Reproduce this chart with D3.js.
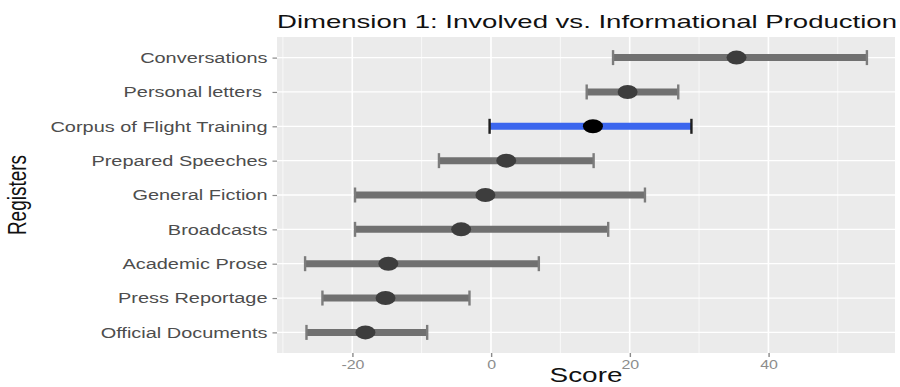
<!DOCTYPE html>
<html>
<head>
<meta charset="utf-8">
<script src="https://cdn.jsdelivr.net/npm/d3@7"></script>
<style>
  html, body { margin: 0; padding: 0; background: #fff; }
  svg { display: block; }
</style>
</head>
<body>
<div id="chart"></div>
<script>
// Registers, top to bottom
const registers = [
  "Conversations",
  "Personal letters ",
  "Corpus of Flight Training",
  "Prepared Speeches",
  "General Fiction",
  "Broadcasts",
  "Academic Prose",
  "Press Reportage",
  "Official Documents"
];
// Dimension 1 scores: mean and range per register
const score = [35.4, 19.7, 14.7, 2.2, -0.8, -4.3, -14.8, -15.2, -18.1];
const lower = [17.6, 13.8, -0.2, -7.5, -19.6, -19.6, -26.8, -24.3, -26.6];
const upper = [54.2, 27.0, 28.9, 14.8, 22.2, 16.9, 6.9, -3.1, -9.2];
const highlight = "Corpus of Flight Training";
const xTicks = [-20, 0, 20, 40];
const xMinorTicks = [-30, -10, 10, 30, 50];

const rows = registers.map((r, i) => ({ register: r, score: score[i], lower: lower[i], upper: upper[i] }));

// The drawing is laid out in a horizontally stretched coordinate system
const W = 900, H = 387, SX = 1.33;
const VW = W / SX;
const u = v => v / SX;   // screen pixels -> drawing x units

const panel = { left: u(277), right: u(895), top: 37, bottom: 353 };
const FONT = "'Liberation Sans', Arial, Helvetica, sans-serif";

const svg = d3.select("#chart").append("svg")
  .attr("width", W).attr("height", H)
  .attr("viewBox", `0 0 ${VW} ${H}`)
  .attr("preserveAspectRatio", "none");

const lo = d3.min(lower), hi = d3.max(upper), pad = (hi - lo) * 0.05;
const x = d3.scaleLinear().domain([lo - pad, hi + pad]).range([panel.left, panel.right]);
const y = d3.scalePoint().domain(registers).range([panel.top, panel.bottom]).padding(0.6);

// Panel background and grid
svg.append("rect")
  .attr("x", panel.left).attr("y", panel.top)
  .attr("width", panel.right - panel.left).attr("height", panel.bottom - panel.top)
  .attr("fill", "#ebebeb");

const grid = svg.append("g");
grid.selectAll("line.minor").data(xMinorTicks.filter(t => x(t) >= panel.left && x(t) <= panel.right))
  .join("line").attr("class", "minor")
  .attr("x1", d => x(d)).attr("x2", d => x(d))
  .attr("y1", panel.top).attr("y2", panel.bottom)
  .attr("stroke", "#fff").attr("stroke-width", 0.6);
grid.selectAll("line.vmajor").data(xTicks)
  .join("line").attr("class", "vmajor")
  .attr("x1", d => x(d)).attr("x2", d => x(d))
  .attr("y1", panel.top).attr("y2", panel.bottom)
  .attr("stroke", "#fff").attr("stroke-width", 1.2);
grid.selectAll("line.hmajor").data(registers)
  .join("line").attr("class", "hmajor")
  .attr("x1", panel.left).attr("x2", panel.right)
  .attr("y1", d => y(d)).attr("y2", d => y(d))
  .attr("stroke", "#fff").attr("stroke-width", 1.3);

// Error bars with caps
const marks = svg.append("g");
marks.selectAll("line.bar").data(rows).join("line").attr("class", "bar")
  .attr("x1", d => x(d.lower)).attr("x2", d => x(d.upper))
  .attr("y1", d => y(d.register)).attr("y2", d => y(d.register))
  .attr("stroke", d => d.register === highlight ? "#3b66ee" : "#707070")
  .attr("stroke-width", 7);

const caps = rows.flatMap(d => [
  { register: d.register, v: d.lower },
  { register: d.register, v: d.upper }
]);
marks.selectAll("line.cap").data(caps).join("line").attr("class", "cap")
  .attr("x1", d => x(d.v)).attr("x2", d => x(d.v))
  .attr("y1", d => y(d.register) - 7.5).attr("y2", d => y(d.register) + 7.5)
  .attr("stroke", d => d.register === highlight ? "#1f1f1f" : "#7c7c7c")
  .attr("stroke-width", u(2.4));

marks.selectAll("ellipse").data(rows).join("ellipse")
  .attr("cx", d => x(d.score)).attr("cy", d => y(d.register))
  .attr("rx", u(10)).attr("ry", 7)
  .attr("fill", d => d.register === highlight ? "#000" : "#3d3d3d");

// Axes
const xAxis = svg.append("g")
  .attr("transform", `translate(0,${panel.bottom})`)
  .call(d3.axisBottom(x).tickValues(xTicks).tickFormat(d => String(d)).tickSize(4).tickPadding(3));
xAxis.select(".domain").remove();
xAxis.selectAll(".tick line").attr("stroke", "#8a8a8a").attr("stroke-width", u(1.4));
xAxis.selectAll(".tick text")
  .attr("fill", "#8c8c8c").style("font-family", FONT).style("font-size", "12px");

const yAxis = svg.append("g")
  .attr("transform", `translate(${panel.left},0)`)
  .call(d3.axisLeft(y).tickSize(u(4.5)).tickPadding(u(5)));
yAxis.select(".domain").remove();
yAxis.selectAll(".tick line").attr("stroke", "#8a8a8a").attr("stroke-width", 1.2);
yAxis.selectAll(".tick text")
  .attr("fill", "#4d4d4d").style("font-family", FONT).style("font-size", "15px")
  .style("white-space", "pre");

// Titles
svg.append("text")
  .attr("x", panel.left).attr("y", 28)
  .attr("textLength", u(620)).attr("lengthAdjust", "spacingAndGlyphs")
  .style("font-family", FONT).style("font-size", "18px").attr("fill", "#111")
  .text("Dimension 1: Involved vs. Informational Production");

svg.append("text")
  .attr("transform", `translate(${u(26)},195) rotate(-90)`)
  .attr("text-anchor", "middle")
  .style("font-family", FONT).style("font-size", "19px").attr("fill", "#111")
  .text("Registers");

svg.append("text")
  .attr("x", (panel.left + panel.right) / 2).attr("y", 382)
  .attr("text-anchor", "middle")
  .style("font-family", FONT).style("font-size", "21px").attr("fill", "#111")
  .text("Score");
</script>
</body>
</html>
